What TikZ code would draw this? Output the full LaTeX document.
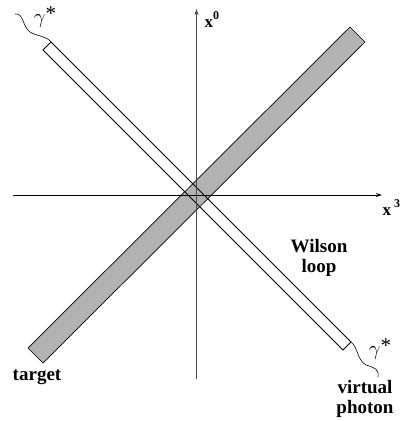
\documentclass[tikz,border=0pt]{standalone}
\usepackage{fontspec}
\setmainfont{Liberation Serif}
\usetikzlibrary{arrows.meta}
\begin{document}
\begin{tikzpicture}[x=1pt,y=-1pt,
  lbl/.style={font=\fontsize{19}{20}\selectfont\bfseries, inner sep=0pt, align=center},
  gam/.style={font=\fontsize{21}{22}\selectfont, inner sep=0pt},
  axlbl/.style={font=\fontsize{17}{20}\selectfont\bfseries, inner sep=0pt, anchor=base west},
  band/.style={draw=black, line width=0.9pt, line join=miter},
  wave/.style={draw=black, line width=0.6pt}]
\useasboundingbox (0,0) rectangle (403,421);
% target band (gray)
\coordinate (gT) at (350,27);
\coordinate (gR) at (365,42);
\coordinate (gB) at (43,363);
\coordinate (gL) at (28,348);
\fill[fill=black!30] (gT) -- (gR) -- (gB) -- (gL) -- cycle;
% Wilson loop band (white)
\coordinate (wT) at (51,42);
\coordinate (wL) at (43,50);
\coordinate (wB) at (343,350);
\coordinate (wR) at (351,342);
\draw[band] (wT) -- (wR) -- (wB) -- (wL) -- cycle;
\draw[band, line width=0.7pt] (gT) -- (gR) -- (gB) -- (gL) -- cycle;
% axes
\coordinate (vB) at (196.5,379);
\coordinate (vT) at (196.5,9);
\coordinate (hL) at (13,195);
\coordinate (hR) at (382,195);
\draw[black!70, line width=0.9pt, -{Stealth[length=6pt,width=4pt]}] (vB) -- (vT);
\draw[black, line width=0.9pt, -{Stealth[length=6pt,width=4pt]}] (hL) -- (hR);
% axis labels
\node[axlbl] (x0) at (204.5,27) {x\raisebox{0.45em}{\fontsize{12}{12}\selectfont 0}};
\node[axlbl] (x3) at (382.5,215) {x\,\raisebox{0.45em}{\fontsize{12}{12}\selectfont 3}};
% photon lines
\coordinate (p1s) at (15,14);
\draw[wave] (p1s) .. controls (24,13) and (22,26) .. (30,32)
  .. controls (36,36) and (47,36) .. (wT);
\coordinate (p2e) at (378,377);
\draw[wave] (wR) .. controls (358,347) and (357,360) .. (366,365)
  .. controls (376,368) and (379,370) .. (p2e);
\node[gam] (g1) at (45,17) {$\gamma$\raisebox{0.15em}{*}};
\node[gam] (g2) at (380,349) {$\gamma$\raisebox{0.15em}{*}};
% labels
\node[lbl] (tgt) at (37,377) {target};
\node[lbl] (wil) at (319,258) {Wilson\\loop};
\node[lbl] (vph) at (365,399) {virtual\\photon};
\end{tikzpicture}
\end{document}
